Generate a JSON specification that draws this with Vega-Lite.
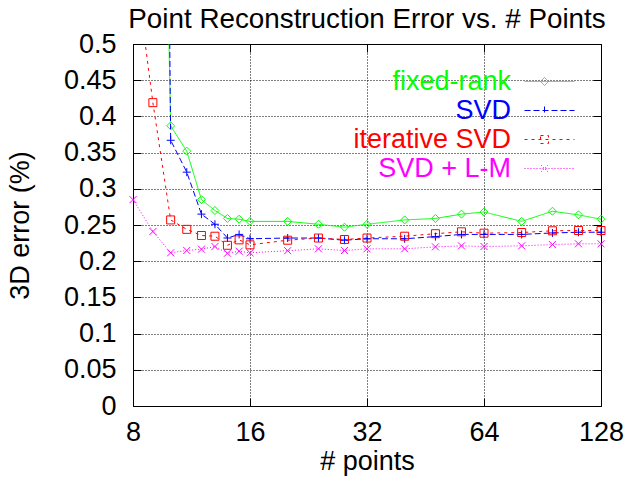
{
  "$schema": "https://vega.github.io/schema/vega-lite/v6.json",
  "width": 468,
  "height": 362,
  "autosize": {"type": "none"},
  "padding": {"left": 133, "top": 44, "right": 36, "bottom": 81},
  "background": "white",
  "title": {"text": "Point Reconstruction Error vs. # Points", "fontSize": 27.8, "font": "Liberation Sans", "fontWeight": "normal", "color": "black", "offset": -4},
  "config": {
    "font": "Liberation Sans",
    "view": {"stroke": "black", "strokeWidth": 1},
    "axis": {
      "labelFont": "Liberation Sans", "labelFontSize": 27, "labelColor": "black",
      "titleFont": "Liberation Sans", "titleFontSize": 27, "titleFontWeight": "normal", "titleColor": "black",
      "domain": false, "ticks": true, "tickColor": "black", "tickSize": -8, "tickWidth": 1,
      "gridColor": "black", "gridDash": [1, 2], "gridOpacity": 1, "gridWidth": 1,
      "labelFlush": false, "labelOverlap": false, "labelBound": false
    },
    "legend": {
      "labelFont": "Liberation Sans"
    }
  },
  "datasets": {
    "pts": [
    {"n": 9, "err": 1.6, "s": "fixed-rank"},
    {"n": 10, "err": 0.387, "s": "fixed-rank"},
    {"n": 11, "err": 0.352, "s": "fixed-rank"},
    {"n": 12, "err": 0.285, "s": "fixed-rank"},
    {"n": 13, "err": 0.27, "s": "fixed-rank"},
    {"n": 14, "err": 0.259, "s": "fixed-rank"},
    {"n": 15, "err": 0.258, "s": "fixed-rank"},
    {"n": 16, "err": 0.255, "s": "fixed-rank"},
    {"n": 20, "err": 0.255, "s": "fixed-rank"},
    {"n": 24, "err": 0.251, "s": "fixed-rank"},
    {"n": 28, "err": 0.247, "s": "fixed-rank"},
    {"n": 32, "err": 0.251, "s": "fixed-rank"},
    {"n": 40, "err": 0.257, "s": "fixed-rank"},
    {"n": 48, "err": 0.259, "s": "fixed-rank"},
    {"n": 56, "err": 0.265, "s": "fixed-rank"},
    {"n": 64, "err": 0.268, "s": "fixed-rank"},
    {"n": 80, "err": 0.255, "s": "fixed-rank"},
    {"n": 96, "err": 0.269, "s": "fixed-rank"},
    {"n": 112, "err": 0.264, "s": "fixed-rank"},
    {"n": 128, "err": 0.258, "s": "fixed-rank"},

    {"n": 9, "err": 3.0, "s": "SVD"},
    {"n": 10, "err": 0.367, "s": "SVD"},
    {"n": 11, "err": 0.323, "s": "SVD"},
    {"n": 12, "err": 0.265, "s": "SVD"},
    {"n": 13, "err": 0.251, "s": "SVD"},
    {"n": 14, "err": 0.232, "s": "SVD"},
    {"n": 15, "err": 0.237, "s": "SVD"},
    {"n": 16, "err": 0.231, "s": "SVD"},
    {"n": 20, "err": 0.232, "s": "SVD"},
    {"n": 24, "err": 0.232, "s": "SVD"},
    {"n": 28, "err": 0.229, "s": "SVD"},
    {"n": 32, "err": 0.231, "s": "SVD"},
    {"n": 40, "err": 0.231, "s": "SVD"},
    {"n": 48, "err": 0.234, "s": "SVD"},
    {"n": 56, "err": 0.237, "s": "SVD"},
    {"n": 64, "err": 0.237, "s": "SVD"},
    {"n": 80, "err": 0.237, "s": "SVD"},
    {"n": 96, "err": 0.239, "s": "SVD"},
    {"n": 112, "err": 0.24, "s": "SVD"},
    {"n": 128, "err": 0.24, "s": "SVD"},

    {"n": 8, "err": 0.63, "s": "iterative SVD"},
    {"n": 9, "err": 0.419, "s": "iterative SVD"},
    {"n": 10, "err": 0.257, "s": "iterative SVD"},
    {"n": 11, "err": 0.244, "s": "iterative SVD"},
    {"n": 12, "err": 0.2355, "s": "iterative SVD"},
    {"n": 13, "err": 0.2345, "s": "iterative SVD"},
    {"n": 14, "err": 0.222, "s": "iterative SVD"},
    {"n": 15, "err": 0.2295, "s": "iterative SVD"},
    {"n": 16, "err": 0.2226, "s": "iterative SVD"},
    {"n": 20, "err": 0.229, "s": "iterative SVD"},
    {"n": 24, "err": 0.232, "s": "iterative SVD"},
    {"n": 28, "err": 0.23, "s": "iterative SVD"},
    {"n": 32, "err": 0.232, "s": "iterative SVD"},
    {"n": 40, "err": 0.2345, "s": "iterative SVD"},
    {"n": 48, "err": 0.238, "s": "iterative SVD"},
    {"n": 56, "err": 0.2406, "s": "iterative SVD"},
    {"n": 64, "err": 0.2387, "s": "iterative SVD"},
    {"n": 80, "err": 0.2396, "s": "iterative SVD"},
    {"n": 96, "err": 0.242, "s": "iterative SVD"},
    {"n": 112, "err": 0.2424, "s": "iterative SVD"},
    {"n": 128, "err": 0.2424, "s": "iterative SVD"},

    {"n": 8, "err": 0.285, "s": "SVD + L-M"},
    {"n": 9, "err": 0.241, "s": "SVD + L-M"},
    {"n": 10, "err": 0.2116, "s": "SVD + L-M"},
    {"n": 11, "err": 0.2148, "s": "SVD + L-M"},
    {"n": 12, "err": 0.2166, "s": "SVD + L-M"},
    {"n": 13, "err": 0.2203, "s": "SVD + L-M"},
    {"n": 14, "err": 0.211, "s": "SVD + L-M"},
    {"n": 15, "err": 0.2138, "s": "SVD + L-M"},
    {"n": 16, "err": 0.2116, "s": "SVD + L-M"},
    {"n": 20, "err": 0.2145, "s": "SVD + L-M"},
    {"n": 24, "err": 0.2171, "s": "SVD + L-M"},
    {"n": 28, "err": 0.2147, "s": "SVD + L-M"},
    {"n": 32, "err": 0.2171, "s": "SVD + L-M"},
    {"n": 40, "err": 0.2171, "s": "SVD + L-M"},
    {"n": 48, "err": 0.2198, "s": "SVD + L-M"},
    {"n": 56, "err": 0.2212, "s": "SVD + L-M"},
    {"n": 64, "err": 0.2203, "s": "SVD + L-M"},
    {"n": 80, "err": 0.2212, "s": "SVD + L-M"},
    {"n": 96, "err": 0.223, "s": "SVD + L-M"},
    {"n": 112, "err": 0.224, "s": "SVD + L-M"},
    {"n": 128, "err": 0.224, "s": "SVD + L-M"}
    ]
  },
  "data": {"name": "pts"},
  "layer": [
    {
      "mark": {"type": "line", "clip": true, "strokeWidth": 1},
      "encoding": {
        "x": {"field": "n", "type": "quantitative",
          "scale": {"type": "log", "base": 2, "domain": [8, 128], "nice": false},
          "axis": {"orient": "bottom", "values": [8, 16, 32, 64, 128], "format": "d", "title": "# points", "grid": true, "labelPadding": 21, "titlePadding": 3}},
        "y": {"field": "err", "type": "quantitative",
          "scale": {"domain": [0, 0.5], "nice": false, "zero": false},
          "axis": {"orient": "left", "values": [0, 0.05, 0.1, 0.15, 0.2, 0.25, 0.3, 0.35, 0.4, 0.45, 0.5], "format": "~g", "title": "3D error (%)", "grid": true, "labelPadding": 25, "titlePadding": 29}},
        "color": {"field": "s", "type": "nominal",
          "scale": {"domain": ["fixed-rank", "SVD", "iterative SVD", "SVD + L-M"], "range": ["#00ff00", "#0000ff", "#ff0000", "#ff00ff"]},
          "legend": {
            "orient": "top-right", "offset": 24, "title": null, "padding": 0,
            "labelFontSize": 27, "labelAlign": "right", "labelOffset": -52, "labelLimit": 400,
            "symbolSize": 64, "symbolStrokeWidth": 1, "rowPadding": 1,
            "encode": {
              "labels": {"update": {"fill": {"signal": "datum.value === 'fixed-rank' ? '#00ff00' : datum.value === 'SVD' ? '#0000ff' : datum.value === 'iterative SVD' ? '#ff0000' : '#ff00ff'"}}},
              "symbols": {"update": {
                "fill": {"value": "transparent"},
                "opacity": {"value": 1},
                "strokeOpacity": {"value": 1},
                "stroke": {"signal": "datum.value === 'fixed-rank' ? '#00ff00' : datum.value === 'SVD' ? '#0000ff' : datum.value === 'iterative SVD' ? '#ff0000' : '#ff00ff'"},
                "shape": {"signal": "datum.value === 'fixed-rank' ? 'M-6.25,0L6.25,0M-1.25,-1L-0.25,0L-1.25,1L-2.25,0Z' : datum.value === 'SVD' ? 'M-6.25,0L6.25,0M-1.25,-1L-1.25,1' : datum.value === 'iterative SVD' ? 'M-6.25,0L6.25,0M-2.25,-1L-0.25,-1L-0.25,1L-2.25,1Z' : 'M-6.25,0L6.25,0M-2.125,-0.875L-0.375,0.875M-2.125,0.875L-0.375,-0.875'"}
              }}
            }
          }},
        "strokeDash": {"field": "s", "type": "nominal",
          "scale": {"domain": ["fixed-rank", "SVD", "iterative SVD", "SVD + L-M"], "range": [[1, 0], [6, 3], [3, 4], [1, 2]]}}
      }
    },
    {
      "transform": [{"filter": "datum.err <= 0.5 && datum.s === 'fixed-rank'"}],
      "mark": {"type": "point", "clip": false, "filled": false, "strokeWidth": 1, "size": 64, "opacity": 1, "shape": "M0,-1L1,0L0,1L-1,0Z"},
      "encoding": {
        "x": {"field": "n", "type": "quantitative",
          "axis": {"orient": "top", "values": [8, 16, 32, 64, 128], "labels": false, "title": null, "grid": false}},
        "y": {"field": "err", "type": "quantitative",
          "axis": {"orient": "right", "values": [0, 0.05, 0.1, 0.15, 0.2, 0.25, 0.3, 0.35, 0.4, 0.45, 0.5], "labels": false, "title": null, "grid": false}},
        "color": {"field": "s", "type": "nominal", "legend": null}
      }
    },
    {
      "transform": [{"filter": "datum.err <= 0.5 && datum.s === 'SVD'"}],
      "mark": {"type": "point", "clip": false, "filled": false, "strokeWidth": 1, "size": 64, "opacity": 1, "shape": "M-1,0L1,0M0,-1L0,1"},
      "encoding": {
        "x": {"field": "n", "type": "quantitative", "axis": null},
        "y": {"field": "err", "type": "quantitative", "axis": null},
        "color": {"field": "s", "type": "nominal", "legend": null}
      }
    },
    {
      "transform": [{"filter": "datum.err <= 0.5 && datum.s === 'iterative SVD'"}],
      "mark": {"type": "point", "clip": false, "filled": false, "strokeWidth": 1, "size": 64, "opacity": 1, "shape": "M-1,-1L1,-1L1,1L-1,1Z"},
      "encoding": {
        "x": {"field": "n", "type": "quantitative", "axis": null},
        "y": {"field": "err", "type": "quantitative", "axis": null},
        "color": {"field": "s", "type": "nominal", "legend": null}
      }
    },
    {
      "transform": [{"filter": "datum.err <= 0.5 && datum.s === 'SVD + L-M'"}],
      "mark": {"type": "point", "clip": false, "filled": false, "strokeWidth": 1, "size": 64, "opacity": 1, "shape": "M-0.875,-0.875L0.875,0.875M-0.875,0.875L0.875,-0.875"},
      "encoding": {
        "x": {"field": "n", "type": "quantitative", "axis": null},
        "y": {"field": "err", "type": "quantitative", "axis": null},
        "color": {"field": "s", "type": "nominal", "legend": null}
      }
    }
  ],
  "resolve": {"axis": {"x": "independent", "y": "independent"}}
}
